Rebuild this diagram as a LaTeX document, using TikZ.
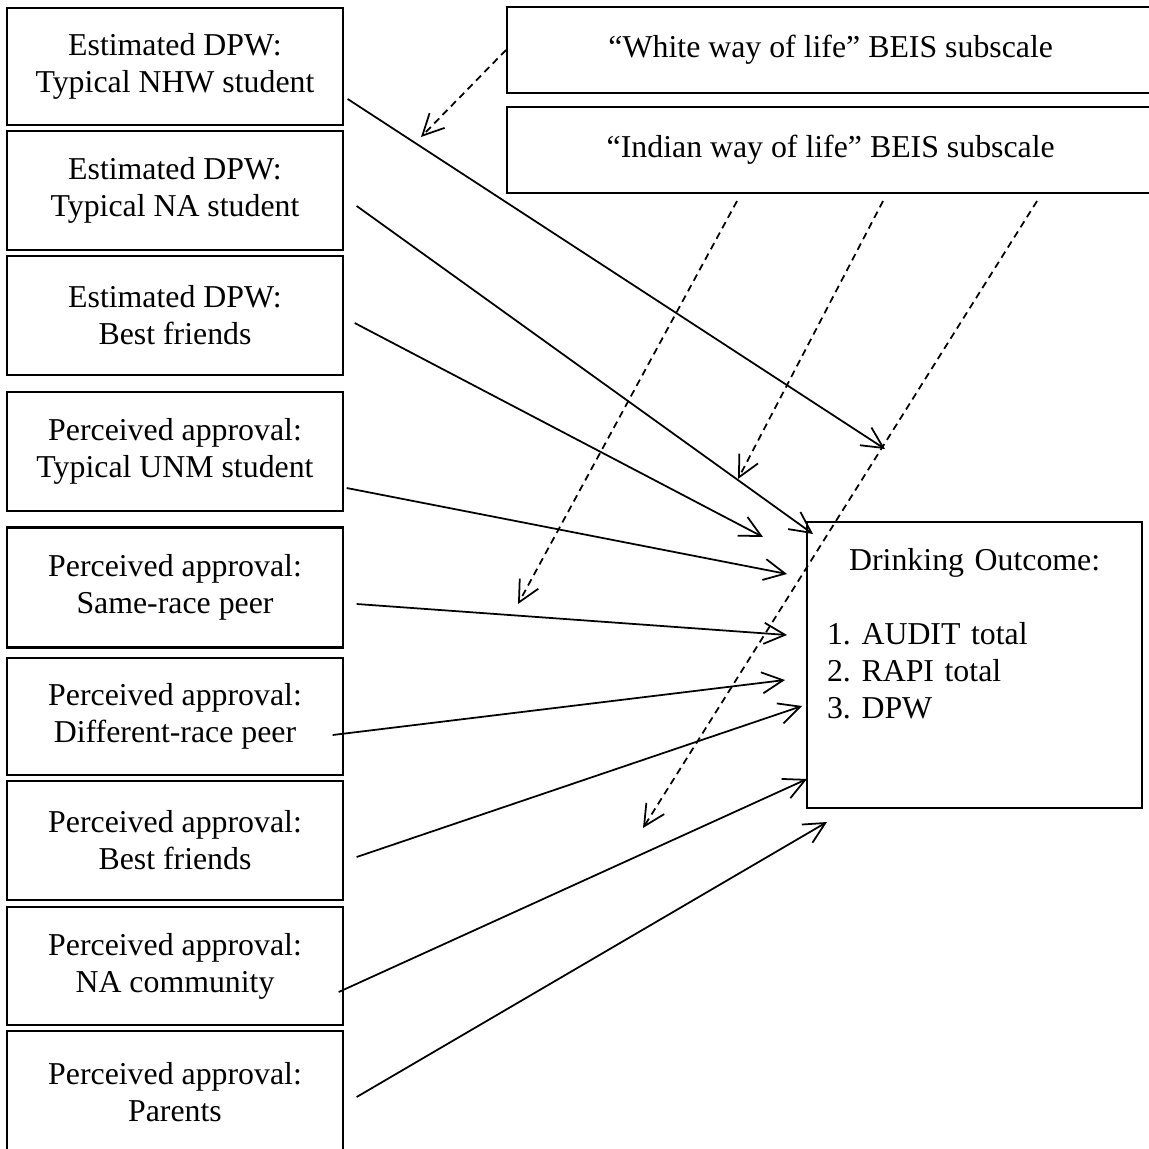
\documentclass[tikz,border=0pt]{standalone}
\usepackage{fontspec}
\setmainfont{Liberation Serif}
\usetikzlibrary{arrows.meta}

\tikzset{
  box/.style={draw, line width=0.6pt, minimum width=3.35cm, align=center, inner sep=0pt},
  arr/.style={-{Straight Barb[length=6pt,width=6pt]}, line width=0.5pt},
  darr/.style={arr, dash pattern=on 2pt off 1.4pt},
}

\begin{document}
\begin{tikzpicture}[x=0.01cm, y=-0.01cm, font=\fontsize{9.05}{10.5}\selectfont\frenchspacing]
   \useasboundingbox (0,0) rectangle (1149,1149);
   % predictors
   \node[box, minimum height=1.17cm] (nhw) at (175,66.5) {Estimated DPW:\\Typical NHW student};
   \node[box, minimum height=1.19cm] (na) at (175,190.5) {Estimated DPW:\\Typical NA student};
   \node[box, minimum height=1.19cm] (bf) at (175,315.5) {Estimated DPW:\\Best friends};
   \node[box, minimum height=1.19cm] (unm) at (175,451.5) {Perceived approval:\\Typical UNM student};
   \node[box, minimum height=1.20cm] (same) at (175,587.5) {Perceived approval:\\Same-race peer};
   \node[box, minimum height=1.17cm] (diff) at (175,716.5) {Perceived approval:\\Different-race peer};
   \node[box, minimum height=1.19cm] (bfa) at (175,840.5) {Perceived approval:\\Best friends};
   \node[box, minimum height=1.18cm] (nac) at (175,966) {Perceived approval:\\NA community};
   \node[box, minimum height=1.22cm] (par) at (175,1092) {Perceived approval:\\Parents};
   % moderators
   \node[box, minimum width=6.6cm, minimum height=0.86cm, anchor=west] (white) at (506,50)
      {\hspace*{-0.13cm}“White way of life” BEIS subscale};
   \node[box, minimum width=6.6cm, minimum height=0.86cm, anchor=west] (indian) at (506,150)
      {\hspace*{-0.13cm}“Indian way of life” BEIS subscale};
   % outcome
   \node[box, minimum height=2.86cm, text width=2.95cm, inner xsep=0.2cm, align=left, anchor=north west] (out) at (806,521)
      {\makebox[2.95cm]{Drinking Outcome:}\\[10.5pt]1. AUDIT total\\2. RAPI total\\3. DPW\\[0.26cm]\mbox{}};
   \coordinate (wtip) at (421,137);
   \coordinate (itip1) at (518,604);
   \coordinate (itip2) at (738,479);
   \coordinate (itip3) at (643,828);
   \draw[arr] ([shift={(4,32.5)}]nhw.east) -- ([shift={(79,-72)}]out.north west);
   \draw[arr] ([shift={(13,15.5)}]na.east) -- ([shift={(7,13)}]out.north west);
   \draw[arr] ([shift={(11,7.5)}]bf.east) -- ([shift={(-43,16)}]out.north west);
   \draw[arr] ([shift={(3,36.5)}]unm.east) -- ([shift={(-19,53)}]out.north west);
   \draw[arr] ([shift={(13,16.5)}]same.east) -- ([shift={(-19,114)}]out.north west);
   \draw[arr] ([shift={(-11,18.5)}]diff.east) -- ([shift={(-21,159)}]out.north west);
   \draw[arr] ([shift={(13,16.5)}]bfa.east) -- ([shift={(-4,185)}]out.north west);
   \draw[arr] ([shift={(-5,26)}]nac.east) -- ([shift={(1,258)}]out.north west);
   \draw[arr] ([shift={(13,5)}]par.east) -- ([shift={(21,301)}]out.north west);
   \draw[darr] (white.west) -- (wtip);
   \draw[darr] ([shift={(231,7)}]indian.south west) -- (itip1);
   \draw[darr] ([shift={(377,7)}]indian.south west) -- (itip2);
   \draw[darr] ([shift={(531,7)}]indian.south west) -- (itip3);
\end{tikzpicture}
\end{document}
